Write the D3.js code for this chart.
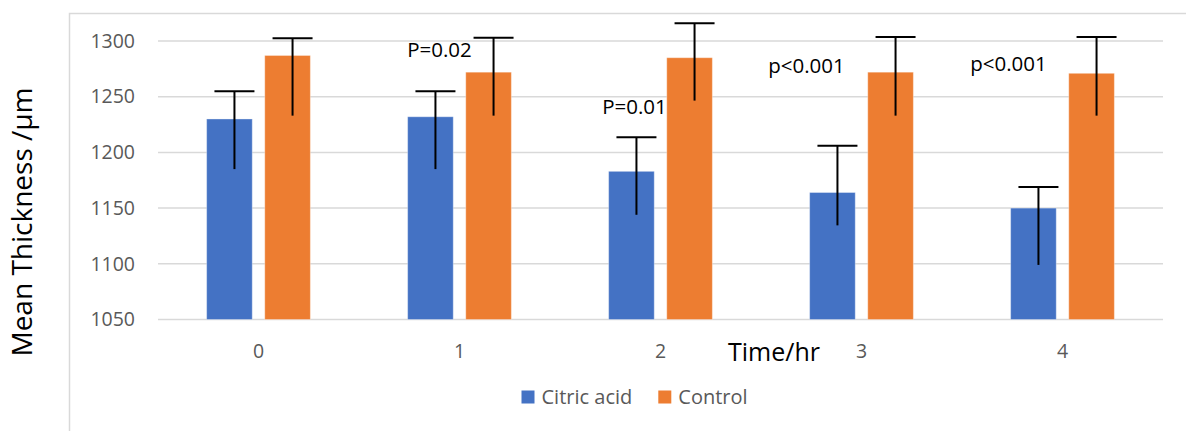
<!DOCTYPE html>
<html>
<head>
<meta charset="utf-8">
<script src="https://cdn.jsdelivr.net/npm/d3@7"></script>
<style>
  html, body { margin: 0; padding: 0; background: #fff; }
  svg { display: block; font-family: "Open Sans", "DejaVu Sans", sans-serif; }
</style>
</head>
<body>
<svg id="chart" width="1186" height="431"></svg>
<script>
// Mean thickness over time, citric acid vs control
const categories = ["0", "1", "2", "3", "4"];
const seriesNames = ["Citric acid", "Control"];
const citricMean = [1230, 1232, 1183, 1164, 1150];
const citricHigh = [1255, 1255, 1213.5, 1206, 1169];
const citricLow = [1185, 1185, 1144, 1134.5, 1099];
const controlMean = [1287, 1272, 1285, 1272, 1271];
const controlHigh = [1302.5, 1303, 1316, 1303.5, 1303.5];
const controlLow = [1233, 1233, 1246.5, 1233, 1233];
const yTicks = [1050, 1100, 1150, 1200, 1250, 1300];
// significance notes: category, text, vertical anchor (data units), horizontal shift (px)
const noteCategory = ["1", "2", "3", "4"];
const noteText = ["P=0.02", "P=0.01", "p<0.001", "p<0.001"];
const noteY = [1285.6, 1234.2, 1271.5, 1273.3];
const noteDx = [-20, -26, -55, -54];

const colors = { "Citric acid": "#4472C4", "Control": "#ED7D31" };
const svg = d3.select("#chart");

const plot = { left: 158, right: 1163, top: 41, bottom: 319.5 };

const x0 = d3.scaleBand().domain(categories).range([plot.left, plot.right]).padding(0);
const bw = x0.bandwidth();
const x1 = d3.scaleBand().domain(seriesNames)
  .range([bw * 0.242, bw * 0.758]).paddingInner(0.215).paddingOuter(0);
const y = d3.scaleLinear().domain([1050, 1300]).range([plot.bottom, plot.top]);

// chart frame (top and left edges)
svg.append("path")
  .attr("d", "M69.5,431 V13.5 H1186")
  .attr("fill", "none").attr("stroke", "#d9d9d9").attr("stroke-width", 1.5);

// gridlines
svg.append("g").selectAll("line").data(yTicks).join("line")
  .attr("x1", plot.left).attr("x2", plot.right)
  .attr("y1", d => y(d)).attr("y2", d => y(d))
  .attr("stroke", "#d9d9d9").attr("stroke-width", 1.5);

// y axis labels
const yAxis = d3.axisLeft(y).tickValues(yTicks).tickSize(0).tickPadding(0).tickFormat(d3.format("d"));
svg.append("g").attr("transform", "translate(135,0)").call(yAxis)
  .call(g => g.select(".domain").remove())
  .call(g => g.selectAll("text").attr("fill", "#595959")
    .style("font-size", "19.5px").style("font-family", "'Open Sans', sans-serif"));

// x axis labels
const xAxis = d3.axisBottom(x0).tickSize(0).tickPadding(0);
svg.append("g").attr("transform", "translate(0,342)").call(xAxis)
  .call(g => g.select(".domain").remove())
  .call(g => g.selectAll("text").attr("fill", "#595959").attr("dy", "0.32em").attr("y", 10)
    .style("font-size", "19.5px").style("font-family", "'Open Sans', sans-serif"));

const rows = categories.map((c, i) => ({
  cat: c,
  vals: [
    { s: "Citric acid", v: citricMean[i], hi: citricHigh[i], lo: citricLow[i] },
    { s: "Control", v: controlMean[i], hi: controlHigh[i], lo: controlLow[i] }
  ]
}));

const groups = svg.append("g").selectAll("g").data(rows).join("g")
  .attr("transform", d => `translate(${x0(d.cat)},0)`);

groups.selectAll("rect").data(d => d.vals).join("rect")
  .attr("x", d => x1(d.s)).attr("width", x1.bandwidth())
  .attr("y", d => y(d.v)).attr("height", d => y(1050) - y(d.v))
  .attr("fill", d => colors[d.s])
  .attr("stroke", "#fff").attr("stroke-opacity", 0.35).attr("stroke-width", 1);

// error bars
const capW = 40, shift = 5;
const eb = groups.selectAll("g.eb").data(d => d.vals).join("g").attr("class", "eb")
  .attr("transform", d => `translate(${x1(d.s) + x1.bandwidth() / 2 + shift},0)`);
eb.append("line").attr("x1", 0).attr("x2", 0)
  .attr("y1", d => y(d.hi)).attr("y2", d => y(d.lo))
  .attr("stroke", "#000").attr("stroke-width", 2);
eb.append("line").attr("x1", -capW / 2).attr("x2", capW / 2)
  .attr("y1", d => y(d.hi)).attr("y2", d => y(d.hi))
  .attr("stroke", "#000").attr("stroke-width", 2);

// significance notes
svg.append("g").selectAll("text").data(noteText).join("text")
  .attr("x", (d, i) => x0(noteCategory[i]) + bw / 2 + noteDx[i])
  .attr("y", (d, i) => y(noteY[i]))
  .attr("text-anchor", "middle")
  .attr("fill", "#000")
  .style("font-size", "20.5px")
  .text(d => d);

// axis titles
svg.append("text")
  .attr("transform", "translate(22,222) rotate(-90)")
  .attr("text-anchor", "middle").attr("dy", "0.35em")
  .attr("fill", "#000").style("font-size", "28px")
  .text("Mean Thickness /µm");

svg.append("text")
  .attr("x", 774).attr("y", 352).attr("dy", "0.35em")
  .attr("text-anchor", "middle").attr("fill", "#000").style("font-size", "25px")
  .text("Time/hr");

// legend
const legendX = [521.5, 658.3];
const lg = svg.append("g").selectAll("g").data(seriesNames).join("g")
  .attr("transform", (d, i) => `translate(${legendX[i]},390.5)`);
lg.append("rect").attr("width", 13).attr("height", 13).attr("fill", d => colors[d]);
lg.append("text").attr("x", 20).attr("y", 6.5).attr("dy", "0.35em")
  .attr("fill", "#595959").style("font-size", "20px").text(d => d);
</script>
</body>
</html>
